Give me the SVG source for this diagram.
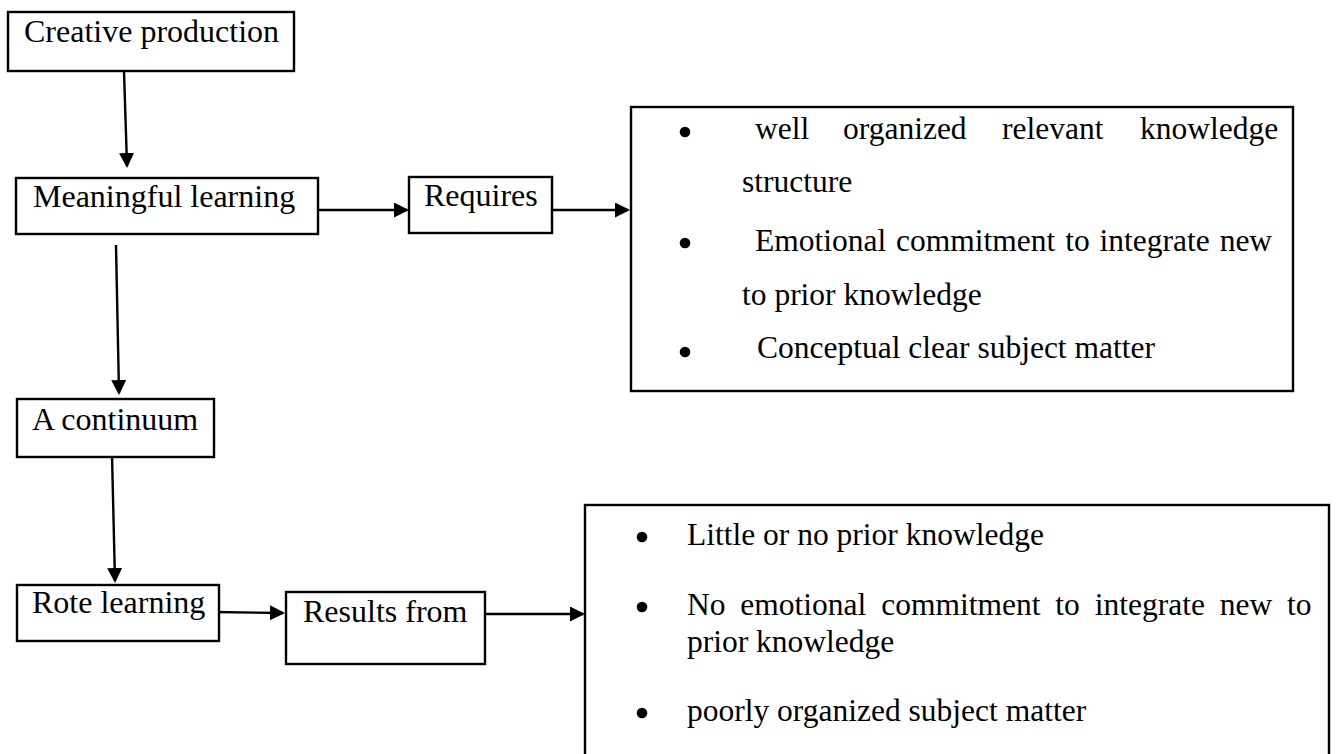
<svg xmlns="http://www.w3.org/2000/svg" width="1336" height="754" viewBox="0 0 1336 754">
<style>
  .box { fill: #ffffff; stroke: #000000; stroke-width: 2.4; }
  .lbl { font-family: "Liberation Serif", "Times New Roman", serif; font-size: 32px; fill: #000000; }
  .txt { font-family: "Liberation Serif", "Times New Roman", serif; font-size: 31.5px; fill: #000000; }
  .bullet { fill: #000000; }
  .conn { stroke: #000000; stroke-width: 2.4; fill: none; marker-end: url(#arrow); }
</style>
<defs>
  <marker id="arrow" viewBox="0 0 15 15" refX="13" refY="7.5" markerWidth="15" markerHeight="15" markerUnits="userSpaceOnUse" orient="auto">
    <path d="M0,0 L15,7.5 L0,15 z" fill="#000000"/>
  </marker>
</defs>
<rect x="0" y="0" width="1336" height="754" fill="#ffffff"/>

<g id="connectors">
  <line class="conn" x1="124" y1="71" x2="127" y2="166"/>
  <line class="conn" x1="116" y1="245" x2="119" y2="393"/>
  <line class="conn" x1="112" y1="455" x2="115" y2="581"/>
  <line class="conn" x1="318" y1="210" x2="407" y2="210"/>
  <line class="conn" x1="553" y1="210" x2="628" y2="210"/>
  <line class="conn" x1="213" y1="612" x2="283" y2="613"/>
  <line class="conn" x1="486" y1="614" x2="583" y2="614"/>
</g>

<g id="creative-production">
  <rect class="box" x="8" y="12" width="286" height="59"/>
  <text class="lbl" x="24" y="42">Creative production</text>
</g>

<g id="meaningful-learning">
  <rect class="box" x="16" y="178" width="302" height="56"/>
  <text class="lbl" x="33" y="207">Meaningful learning</text>
</g>

<g id="requires">
  <rect class="box" x="409" y="177" width="143" height="56"/>
  <text class="lbl" x="424" y="206">Requires</text>
</g>

<g id="requirements-list">
  <rect class="box" x="631" y="107" width="662" height="284"/>
  <circle class="bullet" cx="685" cy="132" r="5.3"/>
  <text class="txt" y="139"><tspan x="755">well</tspan><tspan x="843">organized</tspan><tspan x="1002">relevant</tspan><tspan x="1140">knowledge</tspan></text>
  <text class="txt" x="742" y="192">structure</text>
  <circle class="bullet" cx="685" cy="243" r="5.3"/>
  <text class="txt" x="755" y="251" word-spacing="2">Emotional commitment to integrate new</text>
  <text class="txt" x="742" y="305">to prior knowledge</text>
  <circle class="bullet" cx="685" cy="352" r="5.3"/>
  <text class="txt" x="757" y="358">Conceptual clear subject matter</text>
</g>

<g id="a-continuum">
  <rect class="box" x="17" y="399" width="197" height="58"/>
  <text class="lbl" x="32" y="430">A continuum</text>
</g>

<g id="rote-learning">
  <rect class="box" x="17" y="585" width="202" height="56"/>
  <text class="lbl" x="32" y="613">Rote learning</text>
</g>

<g id="results-from">
  <rect class="box" x="286" y="592" width="199" height="72"/>
  <text class="lbl" x="303" y="622">Results from</text>
</g>

<g id="results-list">
  <rect class="box" x="585" y="505" width="744" height="260"/>
  <circle class="bullet" cx="642" cy="537" r="5.3"/>
  <text class="txt" x="687" y="545">Little or no prior knowledge</text>
  <circle class="bullet" cx="642" cy="607" r="5.3"/>
  <text class="txt" x="687" y="615" word-spacing="7">No emotional commitment to integrate new to</text>
  <text class="txt" x="687" y="652">prior knowledge</text>
  <circle class="bullet" cx="642" cy="713" r="5.3"/>
  <text class="txt" x="687" y="721">poorly organized subject matter</text>
</g>
</svg>
